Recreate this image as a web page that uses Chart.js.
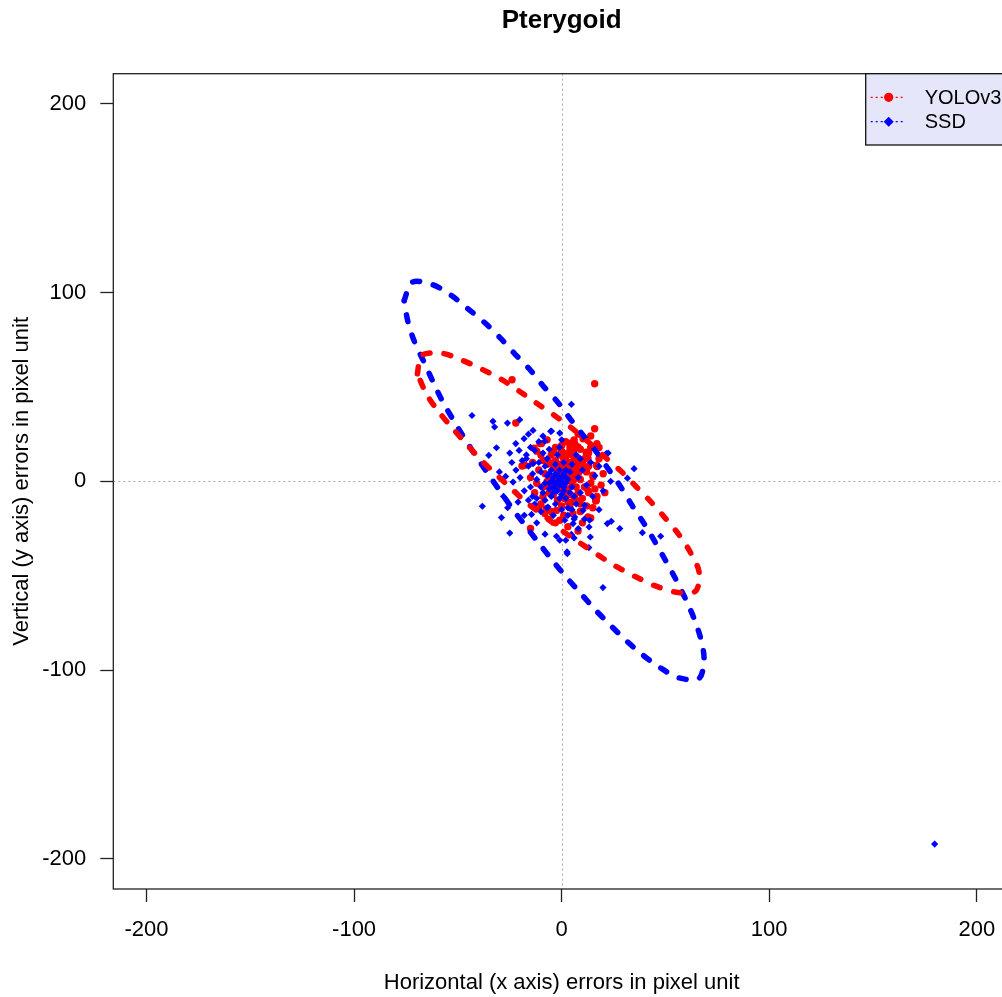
<!DOCTYPE html>
<html>
<head>
<meta charset="utf-8">
<script src="https://cdn.jsdelivr.net/npm/chart.js@4.4.1/dist/chart.umd.min.js"></script>
<style>
  html, body { margin: 0; padding: 0; overflow: hidden; background: #fff; }
  #wrap { width: 1124px; height: 997px; }
</style>
</head>
<body>
<div id="wrap"><canvas id="chart" width="1124" height="997"></canvas></div>
<script>
// labels and ticks
const chartTitle = 'Pterygoid';
const xAxisTitle = 'Horizontal (x axis) errors in pixel unit';
const yAxisTitle = 'Vertical (y axis) errors in pixel unit';
const xTicks = [-200, -100, 0, 100, 200];
const yTicks = [-200, -100, 0, 100, 200];
const seriesNames = ['YOLOv3', 'SSD'];
const seriesColors = ['#ff0000', '#0000ff'];

// YOLOv3 errors [x, y]
const yoloPoints = [
  [15.9,51.7],[-23.9,53.8],[15.9,27.9],[-22.1,30.9],[-19.1,8.1],[-15.0,-25.0],[7.9,-26.3],[16.7,-10.1],
  [20.8,-6.0],[14.0,-19.4],[17.1,7.9],[12.7,12.0],[11.9,15.5],[4.7,20.3],[-13.3,17.6],[-9.0,11.1],
  [-9.0,-3.0],[-7.4,-14.5],[5.4,-17.1],[12.7,-18.9],[16.4,-10.4],[12.7,-4.8],[-0.9,-20.6],[-2.5,-15.4],
  [11.9,14.7],[16.8,8.5],[15.1,3.2],[6.3,20.0],[10.3,22.6],[-10.5,20.0],[-17.8,8.5],[-9.7,20.0],
  [3.9,20.0],[7.9,18.2],[7.9,12.0],[-8.1,-17.1],[15.1,2.3],
  [0,5],[2,8],[4,3],[-2,2],[6,6],[1,12],[3,15],[-4,7],[8,4],[5,-2],[-1,-4],[2,-7],[7,9],[9,1],
  [-3,11],[-6,3],[4,18],[0,16],[-5,14],[10,10],[12,5],[11,-3],[6,-8],[3,-11],[-2,-10],[-6,-6],
  [-8,4],[-7,9],[1,1],[3,4],[5,7],[7,13],[9,17],[-1,9],[2,21],[-3,18],[6,11],[8,-6],[10,-9],
  [4,-14],[0,-13],[-4,-2],[-9,-8],[-11,6],[-10,14],[13,8],[14,-1],[12,-13],[9,-16],[1,-18],
  [-5,-16],[2,13],[4,10],[6,1],[0,-1],[-2,6],[7,-3],[3,-4],[5,14],[-1,3],[8,7],[1,6],[3,1],
  [-3,-1],[5,4],[2,10],[4,-7],[-6,10],[11,12],[0,19],[6,17],[-8,-2],[13,-6],[-12,-1],[15,-14],
  [-10,-12],[7,-10],[2,3],[4,6],[-4,-7],
  [-12,16],[-14,10],[18,12],[19,-2],[17,-8],[-11,-14],[14,18],[-7,22],[8,25],[14,24],[17,20],
  [20,4],[-15,2],[10,-22],[-3,-22],[18,18],[-13,-6],[-6,-20],[3,-24],[9,-12],[11,7],[-4,16],
  [6,22],[-1,14],[9,11],[13,15],[5,-11],[-7,0],[16,-4],[1,-9]
];

// SSD errors [x, y]
const ssdPoints = [
  [-43.2,34.9],[-33.1,31.8],[-32.3,28.8],[-26.1,30.9],[-20.2,32.7],[4.7,40.8],[-0.9,25.6],[-4.9,26.6],
  [-13.8,27.0],[-22.1,20.0],[-18.1,22.6],[-31.4,17.8],[-35.1,13.8],[-27.0,2.6],[-23.4,-0.4],[-38.2,-13.2],
  [-29.0,-19.2],[-25.0,-27.4],[-21.0,-11.0],[-14.5,-17.5],[-2.5,-29.1],[-0.9,-31.2],[2.0,-31.2],[2.7,-38.3],
  [4.7,-28.1],[13.1,-35.1],[13.8,-29.5],[13.2,-24.2],[13.5,-20.6],[21.5,14.7],[23.6,0.0],[31.7,1.7],
  [34.9,6.7],[22.0,-22.4],[23.9,-21.2],[28.0,-25.0],[38.9,-27.2],[47.7,-29.1],[19.9,-56.3],[179.7,-192.2],
  [-20.5,16.4],[-13.0,16.4],[-13.8,9.4],[-17.0,12.0],[-8.1,21.3],[-5.3,26.5],[-6.6,-13.6],[2.6,-37.4],
  [-5.7,-20.6],[5.5,-22.4],[10.3,-15.4],[6.3,-18.9],[11.1,-12.7],[1.5,-20.6],[22.4,15.0],
  [-2,0],[0,2],[-4,-3],[-6,4],[1,-5],[3,1],[-1,6],[-3,9],[-8,-1],[-10,5],[-5,-8],[2,-9],[5,-3],
  [4,5],[-7,12],[-12,1],[-9,-6],[-3,-12],[0,-15],[6,-8],[8,2],[7,-12],[-11,10],[-14,4],[-15,-3],
  [-16,8],[-6,17],[-2,14],[1,10],[-4,2],[-1,-2],[2,-1],[-3,4],[-5,0],[0,-7],[3,-14],[-8,8],
  [-12,-9],[-7,-14],[-18,-5],[-20,2],[-17,14],[5,9],[9,-6],[10,6],[-1,18],[-9,15],[3,-18],
  [-4,-18],[-10,-16],[6,-20],[8,-25],[-13,-12],[-19,11],[-22,6],[-16,-10],[1,4],[-2,-5],[-6,-4],
  [4,-6],[-1,1],[-3,-1],[0,0],[-2,3],[2,2],[-5,6],[-7,3],[-4,-6],[1,-3],[-8,-10],[12,-2],[15,-8],
  [16,3],[-24,10],[-28,-8],[11,-20],[18,-15],[-15,18],[7,14],[-11,21],
  [-25,15],[-18,-18],[-30,5],[-22,-6],[-9,24],[-26,-14],[9,12],[14,10],[-16,25],[20,-5],[18,8],
  [-12,-22],[0,22],[6,-30],[-8,-28],[-3,-4],[-6,-1],[-1,-9],[2,6],[-10,-3],[5,-15],[-14,-8]
];

// confidence ellipses [x, y]
const yoloEllipse = [
  [-69.5,57.0],[-67.5,66.7],[-57.9,67.9],[-47.8,64.1],[-38.2,59.3],[-29.0,54.0],[-20.2,47.6],[-11.7,41.1],
  [-3.3,34.8],[5.2,27.9],[13.5,20.3],[20.8,12.9],[28.5,5.5],[35.7,-2.6],[42.8,-10.6],[49.7,-19.2],
  [56.4,-28.1],[62.0,-37.6],[66.2,-48.0],[64.5,-58.2],[54.5,-58.6],[44.4,-55.1],[35.2,-50.3],[26.1,-45.0],
  [17.2,-38.8],[8.7,-32.5],[-0.1,-25.9],[-8.1,-18.5],[-15.8,-12.3],[-23.4,-4.8],[-31.1,3.2],[-38.6,11.1],
  [-45.6,19.4],[-52.6,28.2],[-59.5,37.2],[-65.2,46.4],[-69.5,57.0]
];
const ssdEllipse = [
  [-75.9,95.8],[-72.1,105.5],[-62.4,104.3],[-53.1,98.5],[-45.1,91.4],[-37.0,84.0],[-29.5,75.9],[-22.6,67.6],
  [-15.4,59.4],[-9.0,50.7],[-1.7,41.7],[4.2,33.0],[10.8,23.8],[16.8,15.5],[22.7,6.2],[28.5,-3.0],
  [33.9,-12.7],[39.7,-22.4],[45.0,-32.1],[50.0,-41.8],[54.8,-51.5],[59.6,-62.1],[63.8,-72.7],[67.0,-83.3],
  [68.6,-94.2],[66.2,-104.4],[56.4,-104.1],[47.3,-98.6],[38.7,-91.7],[31.2,-84.5],[24.0,-76.8],[16.4,-68.3],
  [9.5,-59.8],[2.6,-51.2],[-4.1,-42.4],[-10.5,-33.4],[-17.0,-24.2],[-23.4,-15.0],[-29.6,-5.3],[-35.5,4.1],
  [-41.0,12.9],[-46.7,22.6],[-52.3,32.7],[-57.4,42.4],[-61.9,52.6],[-66.3,63.2],[-70.8,73.7],[-74.0,84.3],
  [-75.9,95.8]
];

const FONT = "'Liberation Sans', Arial, sans-serif";
const toXY = pts => pts.map(p => ({ x: p[0], y: p[1] }));

// zero lines, box and R-style legend
const framePlugin = {
  id: 'frame',
  beforeDatasetsDraw(chart) {
    const { ctx, chartArea: a, scales: { x, y } } = chart;
    const x0 = Math.round(x.getPixelForValue(0)) + 0.5;
    const y0 = Math.round(y.getPixelForValue(0)) + 0.5;
    ctx.save();
    ctx.strokeStyle = '#aaaaaa';
    ctx.lineWidth = 1;
    ctx.setLineDash([2, 3]);
    ctx.beginPath();
    ctx.moveTo(x0, a.top); ctx.lineTo(x0, a.bottom);
    ctx.moveTo(a.left, y0); ctx.lineTo(a.right, y0);
    ctx.stroke();
    ctx.restore();
  },
  afterDraw(chart) {
    const { ctx, chartArea: a } = chart;
    ctx.save();
    ctx.strokeStyle = '#222';
    ctx.lineWidth = 1.3;
    ctx.strokeRect(a.left, a.top, a.right - a.left, a.bottom - a.top);

    // legend box top right
    const w = 144.3, h = 71.3;
    const bx = a.right - w, by = a.top;
    ctx.fillStyle = '#e6e6fa';
    ctx.fillRect(bx, by, w, h);
    ctx.strokeStyle = '#111';
    ctx.lineWidth = 1.3;
    ctx.strokeRect(bx, by, w, h);

    const items = chart.data.datasets.filter(d => d.inLegend);
    items.sort((p, q) => seriesNames.indexOf(p.label) - seriesNames.indexOf(q.label));
    items.forEach((d, i) => {
      const ry = by + 23.6 + i * 24.4;
      ctx.strokeStyle = d.backgroundColor;
      ctx.lineWidth = 1.2;
      ctx.setLineDash([2, 3]);
      ctx.beginPath();
      ctx.moveTo(bx + 5, ry); ctx.lineTo(bx + 40, ry);
      ctx.stroke();
      ctx.setLineDash([]);
      ctx.fillStyle = d.backgroundColor;
      const mx = bx + 23;
      ctx.beginPath();
      if (d.pointStyle === 'rectRot') {
        ctx.moveTo(mx, ry - 5); ctx.lineTo(mx + 5, ry);
        ctx.lineTo(mx, ry + 5); ctx.lineTo(mx - 5, ry);
        ctx.closePath();
      } else {
        ctx.arc(mx, ry, 4.6, 0, Math.PI * 2);
      }
      ctx.fill();
      ctx.fillStyle = '#000';
      ctx.font = '20px ' + FONT;
      ctx.textAlign = 'left';
      ctx.textBaseline = 'middle';
      ctx.fillText(d.label, bx + 59, ry + 1);
    });
    ctx.restore();
  }
};

const ctx = document.getElementById('chart').getContext('2d');
new Chart(ctx, {
  type: 'scatter',
  data: {
    datasets: [
      {
        label: seriesNames[0] + ' ellipse',
        data: toXY(yoloEllipse),
        showLine: true,
        borderColor: seriesColors[0],
        borderWidth: 5.5,
        borderDash: [7, 14],
        borderCapStyle: 'round',
        borderJoinStyle: 'round',
        tension: 0.3,
        pointRadius: 0,
        order: 0
      },
      {
        label: seriesNames[1] + ' ellipse',
        data: toXY(ssdEllipse),
        showLine: true,
        borderColor: seriesColors[1],
        borderWidth: 5.5,
        borderDash: [7, 14],
        borderCapStyle: 'round',
        borderJoinStyle: 'round',
        tension: 0.3,
        pointRadius: 0,
        order: 0
      },
      {
        label: seriesNames[1],
        data: toXY(ssdPoints),
        pointStyle: 'rectRot',
        pointRadius: 3.6,
        backgroundColor: seriesColors[1],
        borderWidth: 0,
        inLegend: true,
        order: 1
      },
      {
        label: seriesNames[0],
        data: toXY(yoloPoints),
        pointStyle: 'circle',
        pointRadius: 3.7,
        backgroundColor: seriesColors[0],
        borderWidth: 0,
        inLegend: true,
        order: 2
      }
    ]
  },
  options: {
    responsive: false,
    animation: false,
    devicePixelRatio: 1,
    events: [],
    layout: { padding: { left: 0, right: 114, top: 0, bottom: 0 } },
    plugins: {
      legend: { display: false },
      tooltip: { enabled: false },
      title: {
        display: true,
        fullSize: false,
        text: chartTitle,
        color: '#000',
        font: { family: FONT, size: 26, weight: 'bold' },
        padding: { top: 5, bottom: 37.5 }
      }
    },
    scales: {
      x: {
        type: 'linear',
        min: -216,
        max: 216,
        afterBuildTicks: s => { s.ticks = xTicks.map(v => ({ value: v })); },
        afterFit: s => { s.height = 108; },
        grid: { drawOnChartArea: false, drawTicks: true, tickLength: 13, tickColor: '#222', tickWidth: 1.3 },
        border: { display: false },
        ticks: { color: '#000', font: { family: FONT, size: 22 }, padding: 15, maxRotation: 0, autoSkip: false },
        title: { display: true, text: xAxisTitle, color: '#000', font: { family: FONT, size: 22 }, padding: { top: 0, bottom: 1 } }
      },
      y: {
        type: 'linear',
        min: -216,
        max: 216,
        afterBuildTicks: s => { s.ticks = yTicks.map(v => ({ value: v })); },
        afterFit: s => { s.width = 113.3; },
        grid: { drawOnChartArea: false, drawTicks: true, tickLength: 13, tickColor: '#222', tickWidth: 1.3 },
        border: { display: false },
        ticks: { color: '#000', font: { family: FONT, size: 22 }, padding: 14, autoSkip: false },
        title: { display: true, text: yAxisTitle, color: '#000', font: { family: FONT, size: 22 }, padding: { top: 9, bottom: 0 } }
      }
    }
  },
  plugins: [framePlugin]
});
</script>
</body>
</html>
